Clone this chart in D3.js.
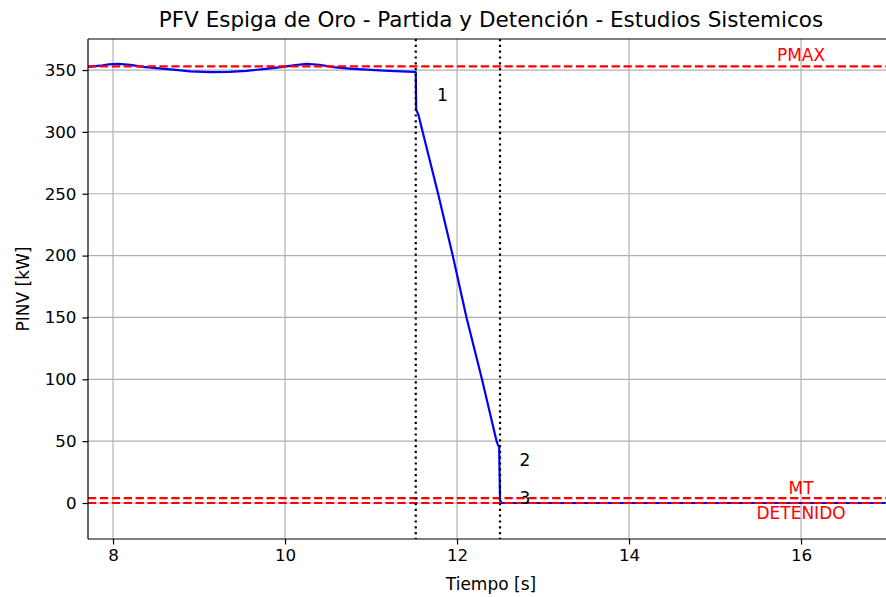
<!DOCTYPE html>
<html>
<head>
<meta charset="utf-8">
<script src="https://cdn.jsdelivr.net/npm/d3@7"></script>
<style>
  html, body { margin: 0; padding: 0; background: #fff; }
  svg { display: block; font-family: "DejaVu Sans", sans-serif; }
</style>
</head>
<body>
<svg id="chart" width="886" height="597"></svg>
<script>
// Inverter active power during start-up and shutdown
const timeS = [7.71, 7.85, 7.95, 8.06, 8.2, 8.35, 8.5, 8.7, 8.9, 9.13, 9.35, 9.55, 9.75, 9.95, 10.1, 10.25, 10.4, 10.56, 10.75, 10.95, 11.15, 11.35, 11.5, 11.52,
               11.525, 11.55, 11.78, 11.95, 12.11, 12.29, 12.46, 12.47, 12.49, 12.5, 12.52, 13.0, 14.0, 15.0, 16.0, 17.1];
const pinvKW = [352.5, 353.5, 354.6, 355.0, 354.2, 352.5, 351.5, 350.3, 349.0, 348.3, 348.6, 349.4, 350.8, 352.3, 353.8, 355.0, 354.3, 352.3, 351.2, 350.3, 349.6, 348.9, 348.5, 348.3,
                318, 314, 250, 200, 150, 100, 50, 48, 45, 2, 0, 0, 0, 0, 0, 0];

// Reference levels (horizontal) and event instants (vertical)
const levelNames = ["PMAX", "MT", "DETENIDO"];
const levelValues = [353, 4, 0];
const eventTimes = [11.52, 12.5];

// Annotations: event markers and level names
const markLabels = ["1", "2", "3"];
const markX = [11.83, 12.79, 12.79];
const markY = [330, 35, 4];
const levelLabelX = [16, 16, 16];
const levelLabelY = [362, 12, -8];

const xTicks = [8, 10, 12, 14, 16];
const yTicks = [0, 50, 100, 150, 200, 250, 300, 350];

const svg = d3.select("#chart");
const m = { left: 88, top: 39, right: 894, bottom: 539 };

const x = d3.scaleLinear().domain([7.709, 17.081]).range([m.left, m.right]);
const y = d3.scaleLinear().domain([-29.1, 375.1]).range([m.bottom, m.top]);

svg.append("defs").append("clipPath").attr("id", "plotclip")
  .append("rect").attr("x", m.left).attr("y", m.top)
  .attr("width", m.right - m.left).attr("height", m.bottom - m.top);

// Grid
const grid = svg.append("g").attr("clip-path", "url(#plotclip)");
grid.selectAll(".gx").data(xTicks).join("line")
  .attr("x1", d => x(d)).attr("x2", d => x(d))
  .attr("y1", m.top).attr("y2", m.bottom)
  .attr("stroke", "#b0b0b0").attr("stroke-width", 1.2);
grid.selectAll(".gy").data(yTicks).join("line")
  .attr("y1", d => y(d)).attr("y2", d => y(d))
  .attr("x1", m.left).attr("x2", m.right)
  .attr("stroke", "#b0b0b0").attr("stroke-width", 1.2);

const plot = svg.append("g").attr("clip-path", "url(#plotclip)");

// Power curve
const pts = timeS.map((t, i) => [t, pinvKW[i]]);
plot.append("path")
  .datum(pts)
  .attr("fill", "none")
  .attr("stroke", "#0000ff")
  .attr("stroke-width", 2.2)
  .attr("stroke-linejoin", "round")
  .attr("d", d3.line().x(d => x(d[0])).y(d => y(d[1])));

// Horizontal reference levels
plot.selectAll(".lvl").data(levelValues).join("line")
  .attr("x1", m.left).attr("x2", m.right)
  .attr("y1", d => y(d)).attr("y2", d => y(d))
  .attr("stroke", "#ff0000").attr("stroke-width", 2.2)
  .attr("stroke-dasharray", "8.3,3.6");

// Vertical event markers
plot.selectAll(".evt").data(eventTimes).join("line")
  .attr("x1", d => x(d)).attr("x2", d => x(d))
  .attr("y1", m.top).attr("y2", m.bottom)
  .attr("stroke", "#000").attr("stroke-width", 2.2)
  .attr("stroke-dasharray", "2.2,3.6");

// Text annotations
plot.selectAll(".mk").data(markLabels).join("text")
  .attr("x", (d, i) => x(markX[i]))
  .attr("y", (d, i) => y(markY[i]))
  .attr("text-anchor", "middle").attr("dominant-baseline", "central")
  .attr("font-size", 17).attr("fill", "#000")
  .text(d => d);

plot.selectAll(".ll").data(levelNames).join("text")
  .attr("x", (d, i) => x(levelLabelX[i]))
  .attr("y", (d, i) => y(levelLabelY[i]))
  .attr("text-anchor", "middle").attr("dominant-baseline", "central")
  .attr("font-size", 17).attr("fill", "#ff0000")
  .text(d => d);

// Axes
const xAxis = svg.append("g").attr("transform", `translate(0,${m.bottom})`)
  .call(d3.axisBottom(x).tickValues(xTicks).tickSize(5.5).tickPadding(5).tickFormat(d3.format("d")));
const yAxis = svg.append("g").attr("transform", `translate(${m.left},0)`)
  .call(d3.axisLeft(y).tickValues(yTicks).tickSize(5.5).tickPadding(6).tickFormat(d3.format("d")));
[xAxis, yAxis].forEach(a => {
  a.select(".domain").remove();
  a.selectAll(".tick line").attr("stroke", "#000").attr("stroke-width", 1.2);
  a.selectAll(".tick text").attr("font-size", 16.7).attr("fill", "#000")
    .attr("font-family", "DejaVu Sans, sans-serif");
});

// Spines: left, bottom and top
svg.append("line").attr("x1", m.left).attr("x2", m.left).attr("y1", m.top).attr("y2", m.bottom)
  .attr("stroke", "#000").attr("stroke-width", 1.2);
svg.append("line").attr("x1", m.left).attr("x2", m.right).attr("y1", m.bottom).attr("y2", m.bottom)
  .attr("stroke", "#000").attr("stroke-width", 1.2);
svg.append("line").attr("x1", m.left).attr("x2", m.right).attr("y1", m.top).attr("y2", m.top)
  .attr("stroke", "#000").attr("stroke-width", 1.2);

// Titles
svg.append("text").attr("x", (m.left + m.right) / 2).attr("y", 27)
  .attr("text-anchor", "middle").attr("font-size", 21.5).attr("fill", "#000")
  .text("PFV Espiga de Oro - Partida y Detención - Estudios Sistemicos");
svg.append("text").attr("x", (m.left + m.right) / 2).attr("y", 590)
  .attr("text-anchor", "middle").attr("font-size", 17).attr("fill", "#000")
  .text("Tiempo [s]");
svg.append("text")
  .attr("transform", `translate(29,${(m.top + m.bottom) / 2}) rotate(-90)`)
  .attr("text-anchor", "middle").attr("font-size", 17).attr("fill", "#000")
  .text("PINV [kW]");
</script>
</body>
</html>
